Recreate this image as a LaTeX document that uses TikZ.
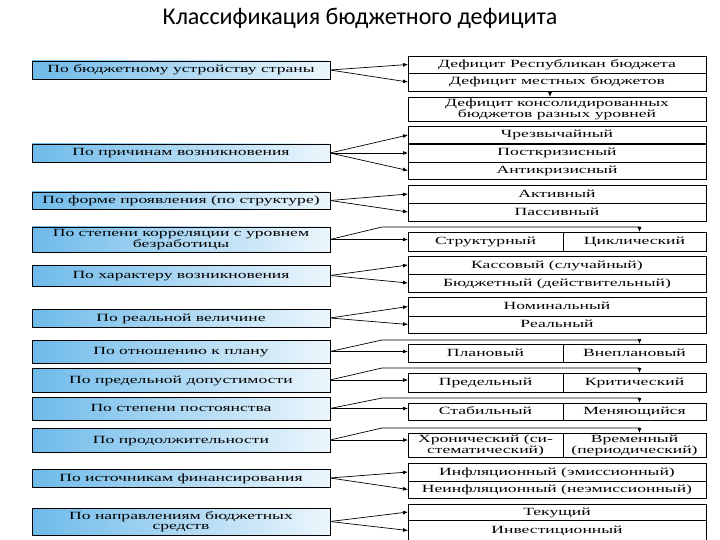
\documentclass[tikz,border=0pt]{standalone}
\usepackage{fontspec}
\setmainfont{Liberation Serif}
\newfontfamily\titlefont{Carlito}
\newfontfamily\boxfont[FakeStretch=1.6]{Liberation Serif}
\usetikzlibrary{arrows.meta}
\definecolor{lbA}{RGB}{110,186,234}
\definecolor{lbB}{RGB}{236,246,252}
\newcommand\mkbox[7]{\node[#1,minimum width={(#5-#3)*1pt},minimum height={(#6-#4)*1pt}] (#2) at ({(#3+#5)/2},{(#4+#6)/2}) {#7};}
\begin{document}
\begin{tikzpicture}[x=1pt,y=-1pt,
  leftbox/.style={draw=black,line width=0.9pt,left color=lbA,right color=lbB,
    inner sep=0pt,outer sep=0pt,align=center,text height=8pt,text depth=2pt,
    font=\boxfont\fontsize{11}{9.5}\selectfont},
  rightbox/.style={draw=black,line width=0.7pt,fill=white,
    inner sep=0pt,outer sep=0pt,align=center,text height=8pt,text depth=2pt,
    font=\boxfont\fontsize{11}{9.5}\selectfont},
  twoline/.style={text height={},text depth={}},
  conn/.style={line width=0.7pt,-{Latex[length=5pt,width=4pt]}},
  thickrule/.style={line width=1.6pt}]
\useasboundingbox (0,0) rectangle (720,540);
\clip (0,0) rectangle (720,540);
\fill[white] (0,0) rectangle (720,540);

\node[font=\titlefont\fontsize{24}{24}\selectfont] (title) at (360,18) {Классификация бюджетного дефицита};

% left boxes
\mkbox{leftbox}{l1}{32}{61}{330}{79}{По бюджетному устройству страны}
\mkbox{leftbox}{l2}{32}{144}{330}{162}{По причинам возникновения}
\mkbox{leftbox}{l3}{32}{192}{330}{209}{По форме проявления (по структуре)}
\mkbox{leftbox,twoline}{l4}{32}{227}{330}{252}{По степени корреляции с уровнем\\безработицы}
\mkbox{leftbox}{l5}{32}{265}{330}{286}{По характеру возникновения}
\mkbox{leftbox}{l6}{32}{309}{330}{327}{По реальной величине}
\mkbox{leftbox}{l7}{32}{340}{330}{363}{По отношению к плану}
\mkbox{leftbox}{l8}{32}{368}{330}{392}{По предельной допустимости}
\mkbox{leftbox}{l9}{32}{397}{330}{420}{По степени постоянства}
\mkbox{leftbox}{l10}{32}{428}{330}{452}{По продолжительности}
\mkbox{leftbox}{l11}{32}{469}{330}{487}{По источникам финансирования}
\mkbox{leftbox,twoline}{l12}{32}{508}{330}{535}{По направлениям бюджетных\\средств}

% right boxes
\mkbox{rightbox}{rA1}{408}{56}{706}{73}{Дефицит Республикан бюджета}
\mkbox{rightbox}{rA2}{408}{73}{706}{91}{Дефицит местных бюджетов}
\mkbox{rightbox,twoline}{rB}{408}{97}{706}{121}{Дефицит консолидированных\\бюджетов разных уровней}
\mkbox{rightbox}{rC1}{408}{126}{706}{144}{Чрезвычайный}
\mkbox{rightbox}{rC2}{408}{144}{706}{162}{Посткризисный}
\mkbox{rightbox}{rC3}{408}{162}{706}{179}{Антикризисный}
\draw[thickrule] (rC1.south west) -- (rC1.south east);
\mkbox{rightbox}{rD1}{408}{185}{706}{203}{Активный}
\mkbox{rightbox}{rD2}{408}{203}{706}{221}{Пассивный}
\mkbox{rightbox}{rE1}{408}{232}{563}{251}{Структурный}
\mkbox{rightbox}{rE2}{563}{232}{706}{251}{Циклический}
\mkbox{rightbox}{rF1}{408}{256}{706}{274}{Кассовый (случайный)}
\mkbox{rightbox}{rF2}{408}{274}{706}{292}{Бюджетный (действительный)}
\mkbox{rightbox}{rG1}{408}{297}{706}{316}{Номинальный}
\mkbox{rightbox}{rG2}{408}{316}{706}{333}{Реальный}
\mkbox{rightbox}{rH1}{408}{344}{563}{362}{Плановый}
\mkbox{rightbox}{rH2}{563}{344}{706}{362}{Внеплановый}
\mkbox{rightbox}{rI1}{408}{373}{563}{392}{Предельный}
\mkbox{rightbox}{rI2}{563}{373}{706}{392}{Критический}
\mkbox{rightbox}{rJ1}{408}{403}{563}{420}{Стабильный}
\mkbox{rightbox}{rJ2}{563}{403}{706}{420}{Меняющийся}
\mkbox{rightbox,twoline}{rK1}{408}{433}{563}{457}{Хронический (си-\\стематический)}
\mkbox{rightbox,twoline}{rK2}{563}{433}{706}{457}{Временный\\(периодический)}
\mkbox{rightbox}{rL1}{408}{463}{706}{481}{Инфляционный (эмиссионный)}
\mkbox{rightbox}{rL2}{408}{481}{706}{498}{Неинфляционный (неэмиссионный)}
\mkbox{rightbox}{rM1}{408}{504}{706}{520}{Текущий}
\mkbox{rightbox}{rM2}{408}{520}{706}{541}{Инвестиционный}

% connectors
\draw[conn] (l1.east) -- (rA1.west);
\draw[conn] (l1.east) -- (rA2.west);
\draw[conn] ([xshift=-7pt]rA2.south) -- ([xshift=-7pt]rB.north);
\draw[conn] (l2.east) -- (rC1.west);
\draw[conn] (l2.east) -- (rC2.west);
\draw[conn] (l2.east) -- (rC3.west);
\draw[conn] (l3.east) -- (rD1.west);
\draw[conn] (l3.east) -- (rD2.west);
\draw[conn] (l4.east) -- (l4.east -| rE1.west);
\draw[conn] (l4.east) -- ([shift={(-26pt,5pt)}]rE1.north west) -| ([xshift=5pt]rE2.north);
\draw[conn] (l5.east) -- (rF1.west);
\draw[conn] (l5.east) -- (rF2.west);
\draw[conn] (l6.east) -- (rG1.west);
\draw[conn] (l6.east) -- (rG2.west);
\draw[conn] (l7.east) -- (l7.east -| rH1.west);
\draw[conn] (l7.east) -- ([shift={(-26pt,4pt)}]rH1.north west) -| ([xshift=5pt]rH2.north);
\draw[conn] (l8.east) -- (l8.east -| rI1.west);
\draw[conn] (l8.east) -- ([shift={(-26pt,5pt)}]rI1.north west) -| ([xshift=5pt]rI2.north);
\draw[conn] (l9.east) -- (l9.east -| rJ1.west);
\draw[conn] (l9.east) -- ([shift={(-26pt,5pt)}]rJ1.north west) -| ([xshift=5pt]rJ2.north);
\draw[conn] (l10.east) -- (l10.east -| rK1.west);
\draw[conn] (l10.east) -- ([shift={(-26pt,5pt)}]rK1.north west) -| ([xshift=5pt]rK2.north);
\draw[conn] (l11.east) -- (rL1.west);
\draw[conn] (l11.east) -- (rL2.west);
\draw[conn] (l12.east) -- (rM1.west);
\draw[conn] (l12.east) -- (rM2.west);
\end{tikzpicture}
\end{document}
